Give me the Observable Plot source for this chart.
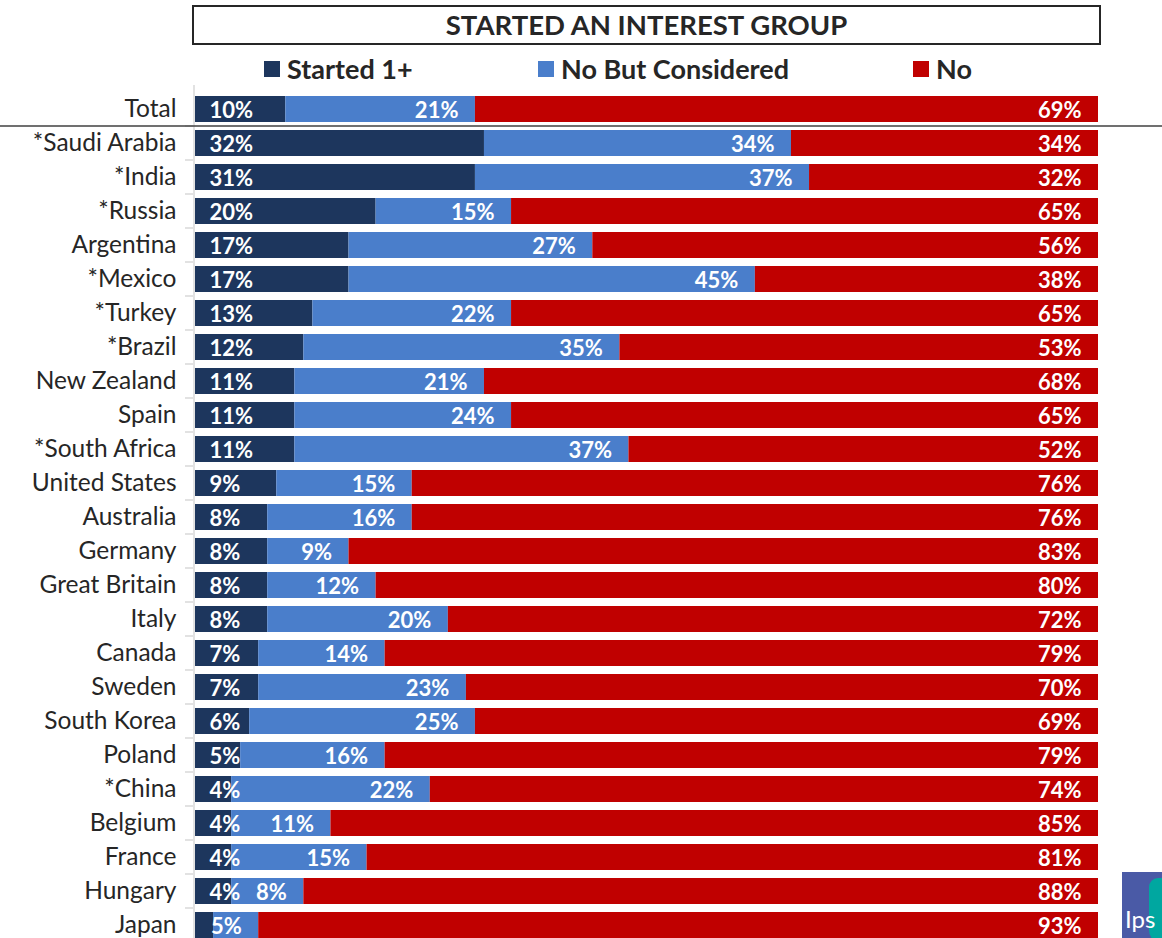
<!DOCTYPE html>
<html>
<head>
<meta charset="utf-8">
<script src="https://cdn.jsdelivr.net/npm/d3@7"></script>
<script src="https://cdn.jsdelivr.net/npm/@observablehq/plot@0.6"></script>
<style>
  html, body { margin: 0; padding: 0; background: #fff; overflow: hidden; width: 1162px; height: 938px; }
  body { position: relative; font-family: Lato, "Open Sans", sans-serif; color: #262626; }
  #title { position: absolute; left: 192px; top: 5px; width: 905px; height: 36px; border: 2px solid #262626;
           text-align: center; font-weight: 700; font-size: 27.5px; line-height: 36px; }
  #legend { position: absolute; left: 0; top: 52px; width: 1162px; height: 34px; }
  .li { position: absolute; top: 0; font-weight: 700; font-size: 27px; line-height: 34px; white-space: nowrap; }
  .sw { position: absolute; top: 9px; width: 16px; height: 16px; }
  #chart { position: absolute; left: 0; top: 84px; }
  #logo { position: absolute; left: 1122px; top: 872px; width: 46px; height: 70px; background: #4a5aa6; overflow: hidden; }
  #logo .teal { position: absolute; left: 27px; top: 6px; width: 20px; height: 66px; background: #00a7a0; border-radius: 9px 0 0 14px; }
  #logo .txt { position: absolute; left: 3px; top: 32px; color: #fff; font-size: 24px; font-family: Lato, sans-serif; }
</style>
</head>
<body>
<div id="title">STARTED AN INTEREST GROUP</div>
<div id="legend"></div>
<div id="chart"></div>
<div id="logo"><div class="teal"></div><div class="txt">Ips</div></div>
<script>
const countries = ["Total","*Saudi Arabia","*India","*Russia","Argentina","*Mexico","*Turkey","*Brazil","New Zealand","Spain","*South Africa","United States","Australia","Germany","Great Britain","Italy","Canada","Sweden","South Korea","Poland","*China","Belgium","France","Hungary","Japan"];
const started    = [10,32,31,20,17,17,13,12,11,11,11, 9, 8, 8, 8, 8, 7, 7, 6, 5, 4, 4, 4, 4, 2];
const considered = [21,34,37,15,27,45,22,35,21,24,37,15,16, 9,12,20,14,23,25,16,22,11,15, 8, 5];
const no         = [69,34,32,65,56,38,65,53,68,65,52,76,76,83,80,72,79,70,69,79,74,85,81,88,93];
const groups = ["Started 1+","No But Considered","No"];
const colors = ["#1d365d","#4a7ecb","#c00000"];
const legendLeft = [264, 538, 913];

// legend
const leg = document.getElementById("legend");
groups.forEach((g, i) => {
  const sw = document.createElement("div");
  sw.className = "sw"; sw.style.left = legendLeft[i] + "px"; sw.style.background = colors[i];
  leg.appendChild(sw);
  const t = document.createElement("div");
  t.className = "li"; t.style.left = (legendLeft[i] + 23) + "px"; t.textContent = g;
  leg.appendChild(t);
});

const rows = countries.map((c, i) => ({country: c, started: started[i], considered: considered[i], no: no[i]}));
const long = [];
rows.forEach(r => {
  long.push({country: r.country, group: groups[0], value: r.started});
  long.push({country: r.country, group: groups[1], value: r.considered});
  long.push({country: r.country, group: groups[2], value: r.no});
});

const labelStyle = {fill: "white", fontWeight: 700, fontSize: 22};

const plot = Plot.plot({
  width: 1162,
  height: 875,
  marginLeft: 195,
  marginRight: 64,
  marginTop: 1,
  marginBottom: 10,
  style: {fontFamily: "Lato, 'Open Sans', sans-serif", background: "transparent"},
  x: {domain: [0, 100], axis: null},
  y: {domain: countries, padding: 0.24, label: null, tickSize: 0, tickPadding: 19},
  color: {domain: groups, range: colors},
  marks: [
    Plot.axisY({tickSize: 0, tickPadding: 19, fontSize: 24.5, fill: "#262626", label: null}),
    Plot.ruleX([0], {stroke: "#d9d9d9", strokeWidth: 1.5, dx: -1.5}),
    Plot.barX(long, {y: "country", x: "value", fill: "group", order: groups, inset: 0}),
    Plot.text(rows.filter(r => r.started >= 3), {y: "country", x: 0, text: d => d.started + "%", textAnchor: "start", dx: 14, dy: 1, ...labelStyle}),
    Plot.text(rows, {y: "country", x: d => d.started + d.considered, text: d => d.considered + "%", textAnchor: "end", dx: -17, dy: 1, ...labelStyle}),
    Plot.text(rows, {y: "country", x: d => d.started + d.considered + d.no, text: d => d.no + "%", textAnchor: "end", dx: -17, dy: 1, ...labelStyle})
  ]
});
document.getElementById("chart").appendChild(plot);

// separator below Total and small gray ticks between rows (band scale apply() gives band start)
const y = plot.scale("y");
const step = y.step, bw = y.bandwidth, gap = step - bw;
const svg = d3.select(plot);
countries.forEach((c, i) => {
  if (i > 0) {
    const yy = y.apply(c) - gap / 2;
    svg.append("line").attr("x1", 185).attr("x2", 193).attr("y1", yy).attr("y2", yy)
      .attr("stroke", "#d9d9d9").attr("stroke-width", 1.5);
  }
});
const sepY = y.apply(countries[0]) + bw + gap / 2;
svg.append("line").attr("x1", 0).attr("x2", 1162).attr("y1", sepY).attr("y2", sepY)
  .attr("stroke", "#404040").attr("stroke-width", 1.3);
</script>
</body>
</html>
